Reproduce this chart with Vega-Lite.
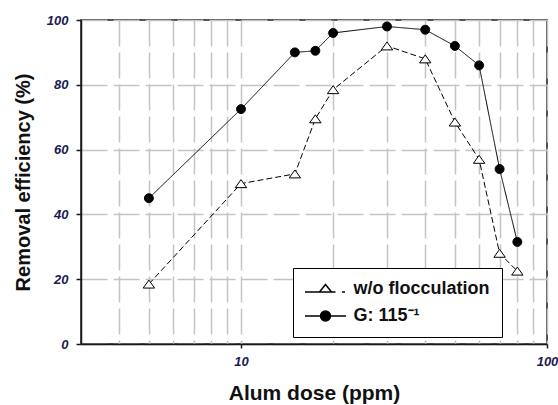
{
  "$schema": "https://vega.github.io/schema/vega-lite/v6.json",
  "width": 466,
  "height": 324,
  "autosize": {"type": "none"},
  "padding": {"left": 81, "top": 20, "right": 11, "bottom": 61},
  "background": "white",
  "config": {"view": {"stroke": "#1a1a1a", "strokeWidth": 1.5}, "font": "Liberation Sans"},
  "data": {
    "values": [
      {"dose": 5, "eff": 18.5, "series": "w/o flocculation"},
      {"dose": 10, "eff": 49.5, "series": "w/o flocculation"},
      {"dose": 15, "eff": 52.5, "series": "w/o flocculation"},
      {"dose": 17.5, "eff": 69.5, "series": "w/o flocculation"},
      {"dose": 20, "eff": 78.5, "series": "w/o flocculation"},
      {"dose": 30, "eff": 92, "series": "w/o flocculation"},
      {"dose": 40, "eff": 88, "series": "w/o flocculation"},
      {"dose": 50, "eff": 68.5, "series": "w/o flocculation"},
      {"dose": 60, "eff": 57, "series": "w/o flocculation"},
      {"dose": 70, "eff": 28, "series": "w/o flocculation"},
      {"dose": 80, "eff": 22.5, "series": "w/o flocculation"},
      {"dose": 5, "eff": 45, "series": "G: 115⁻¹"},
      {"dose": 10, "eff": 72.5, "series": "G: 115⁻¹"},
      {"dose": 15, "eff": 90, "series": "G: 115⁻¹"},
      {"dose": 17.5, "eff": 90.5, "series": "G: 115⁻¹"},
      {"dose": 20, "eff": 96, "series": "G: 115⁻¹"},
      {"dose": 30, "eff": 98, "series": "G: 115⁻¹"},
      {"dose": 40, "eff": 97, "series": "G: 115⁻¹"},
      {"dose": 50, "eff": 92, "series": "G: 115⁻¹"},
      {"dose": 60, "eff": 86, "series": "G: 115⁻¹"},
      {"dose": 70, "eff": 54, "series": "G: 115⁻¹"},
      {"dose": 80, "eff": 31.5, "series": "G: 115⁻¹"}
    ]
  },
  "encoding": {
    "x": {
      "field": "dose",
      "type": "quantitative",
      "scale": {"type": "log", "domain": [3, 100], "nice": false},
      "axis": {
        "values": [4, 5, 6, 7, 8, 9, 10, 20, 30, 40, 50, 60, 70, 80, 90, 100],
        "format": "d",
        "labelExpr": "datum.value == 10 || datum.value == 100 ? datum.label : ''",
        "labelFlush": false,
        "labelOverlap": false,
        "labelBound": false,
        "title": "Alum dose (ppm)",
        "grid": true,
        "gridColor": "#c4c4c4",
        "gridDash": [26, 6],
        "gridWidth": 1.5,
        "domainColor": "#1a1a1a",
        "domainWidth": 1.5,
        "tickColor": "#1a1a1a",
        "tickWidth": 1.5,
        "tickSize": 4,
        "tickOpacity": {"condition": {"test": "datum.value == 10 || datum.value == 100", "value": 1}, "value": 0},
        "labelFont": "Liberation Sans",
        "labelFontSize": 13,
        "labelFontWeight": "bold",
        "labelFontStyle": "italic",
        "labelColor": "#1a1a50",
        "labelPadding": 7,
        "titleFont": "Liberation Sans",
        "titleFontSize": 21,
        "titleFontWeight": "bold",
        "titleColor": "#111111",
        "titlePadding": 14
      }
    },
    "y": {
      "field": "eff",
      "type": "quantitative",
      "scale": {"domain": [0, 100], "nice": false},
      "axis": {
        "values": [0, 20, 40, 60, 80, 100],
        "title": "Removal efficiency (%)",
        "grid": true,
        "gridColor": "#c4c4c4",
        "gridDash": [26, 6],
        "gridWidth": 1.5,
        "domainColor": "#1a1a1a",
        "domainWidth": 1.5,
        "tickColor": "#1a1a1a",
        "tickWidth": 1.5,
        "tickSize": 5,
        "labelFont": "Liberation Sans",
        "labelFontSize": 13,
        "labelFontWeight": "bold",
        "labelFontStyle": "italic",
        "labelColor": "#1a1a50",
        "labelPadding": 8,
        "titleFont": "Liberation Sans",
        "titleFontSize": 20,
        "titleFontWeight": "bold",
        "titleColor": "#111111",
        "titlePadding": 13
      }
    }
  },
  "layer": [
    {
      "mark": {"type": "line", "color": "black", "strokeWidth": 1},
      "encoding": {
        "strokeDash": {
          "field": "series",
          "type": "nominal",
          "scale": {"domain": ["w/o flocculation", "G: 115⁻¹"], "range": [[6, 3], [1, 0]]},
          "legend": null
        }
      }
    },
    {
      "mark": {"type": "point", "filled": true, "stroke": "black", "strokeWidth": 1, "opacity": 1},
      "encoding": {
        "shape": {
          "field": "series",
          "type": "nominal",
          "scale": {"domain": ["w/o flocculation", "G: 115⁻¹"], "range": ["M-1,0.7L0,-0.7L1,0.7Z", "circle"]},
          "legend": null
        },
        "fill": {
          "field": "series",
          "type": "nominal",
          "scale": {"domain": ["w/o flocculation", "G: 115⁻¹"], "range": ["white", "black"]},
          "legend": null
        },
        "size": {
          "field": "series",
          "type": "nominal",
          "scale": {"domain": ["w/o flocculation", "G: 115⁻¹"], "range": [130, 80]},
          "legend": null
        }
      }
    },
    {
      "mark": {"type": "point", "filled": true, "color": "black", "fill": "black", "stroke": "black", "strokeWidth": 1, "opacity": 0, "size": 100},
      "encoding": {
        "shape": {
          "field": "series",
          "type": "nominal",
          "scale": {
            "domain": ["w/o flocculation", "G: 115⁻¹"],
            "range": [
              "M-4.1,0.6H-1.2M-1.2,0.6L0,-0.9L1.2,0.6ZM-1.2,0.6L1.2,0.6L0,-0.9ZM1.2,0.6H2M3.3,0.6H3.9",
              "M-4.1,0H4.1M-1,0A1,1,0,1,1,1,0A1,1,0,1,1,-1,0Z"
            ]
          },
          "legend": {
            "title": null,
            "orient": "none",
            "legendX": 212,
            "legendY": 248,
            "padding": 12,
            "strokeColor": "black",
            "fillColor": "white",
            "symbolSize": 100,
            "symbolOffset": 11.5,
            "labelOffset": 19,
            "rowPadding": 9,
            "labelFont": "Liberation Sans",
            "labelFontSize": 18,
            "labelFontWeight": "bold",
            "labelColor": "#111111",
            "labelLimit": 300,
            "encode": {
              "symbols": {
                "opacity": {"value": 1},
                "stroke": {"value": "black"},
                "strokeWidth": {"value": 1}
              },
              "legend": {"strokeWidth": {"value": 1.5}}
            }
          }
        }
      }
    }
  ],
  "resolve": {"scale": {"shape": "independent", "fill": "independent", "size": "independent"}}
}
